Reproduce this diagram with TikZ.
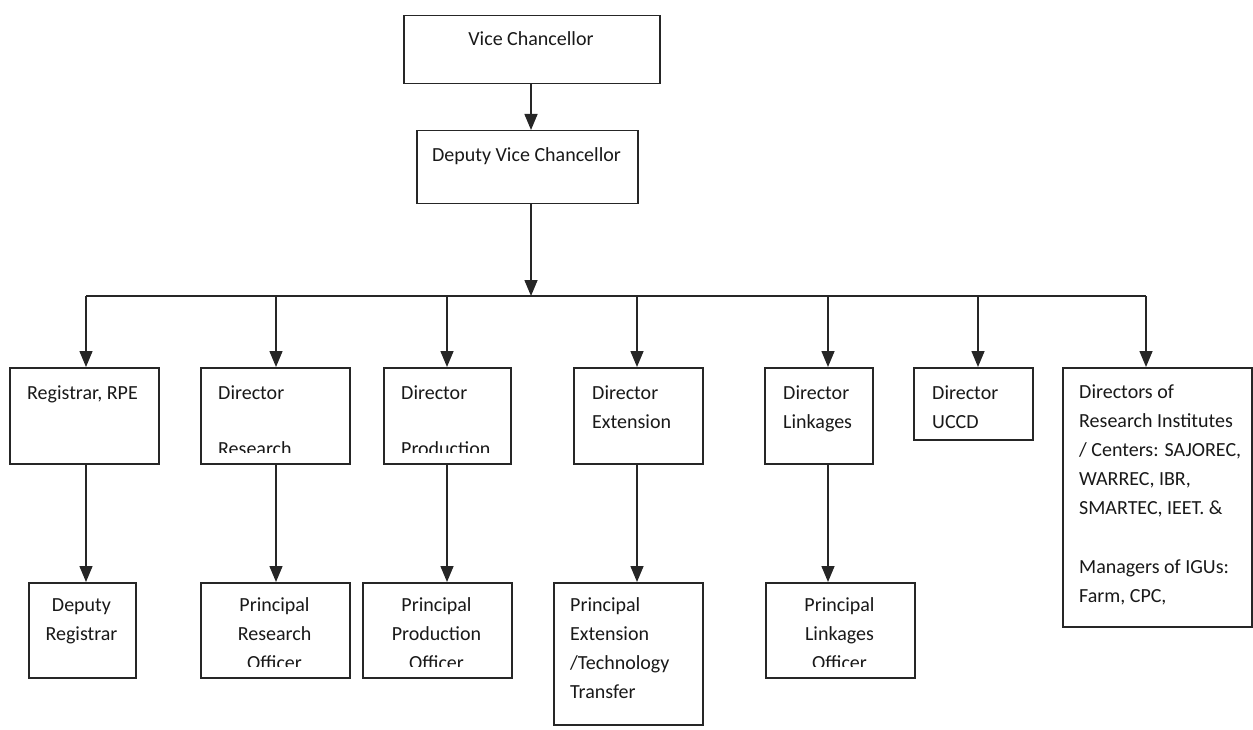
\documentclass[tikz,border=0pt]{standalone}
\usepackage{fontspec}
\setmainfont{Carlito}
\usetikzlibrary{arrows.meta}
\newcommand{\bx}[5]{\node[box, anchor=north west, minimum width={(#4-#2)*1pt}, minimum height={(#5-#3)*1pt}] (#1) at (#2,#3) {};}
\newcommand{\tl}[5]{\node[txt, anchor=#4] (#1) at (#2,#3) {#5};}
\begin{document}
\begin{tikzpicture}[x=1pt,y=-1pt,
  box/.style={draw=black!85, line width=1.5pt, inner sep=0pt, fill=white},
  ln/.style={draw=black!85, line width=1.5pt},
  arr/.style={ln, -{Triangle[length=16pt,width=13pt]}},
  txt/.style={inner sep=0pt, font=\fontsize{20}{24}\selectfont, text=black!90}]
\useasboundingbox (0,0) rectangle (1253,730);
% top boxes
\bx{vc}{403}{15}{659}{83}
\tl{vct}{531}{46}{base}{Vice Chancellor}
\bx{dvc}{416}{130}{637}{203}
\tl{dvct}{526.5}{162}{base}{Deputy Vice Chancellor}
% middle row
\bx{reg}{9}{367}{158}{463}
\bx{dres}{200}{367}{349}{463}
\bx{dprod}{383}{367}{510}{463}
\bx{dext}{573}{367}{702}{463}
\bx{dlink}{764}{367}{872}{463}
\bx{ducc}{913}{367}{1032}{439}
\bx{dri}{1062}{367}{1251}{626}
% bottom row
\bx{dreg}{28}{582}{135}{677}
\bx{pres}{200}{582}{349}{677}
\bx{pprod}{362}{582}{511}{677}
\bx{pext}{553}{582}{702}{724}
\bx{plink}{765}{582}{914}{677}
% middle texts
\tl{regt}{27}{399}{base west}{Registrar, RPE}
\tl{drest}{218}{399}{base west}{Director}
\begin{scope}\clip (200,367) rectangle (349,452);
\tl{drest2}{218}{455}{base west}{Research}
\end{scope}
\tl{dprodt}{401}{399}{base west}{Director}
\begin{scope}\clip (383,367) rectangle (510,452);
\tl{dprodt2}{401}{455}{base west}{Production}
\end{scope}
\tl{dextt}{592}{399}{base west}{Director}
\tl{dextt2}{592}{428}{base west}{Extension}
\tl{dlinkt}{783}{399}{base west}{Director}
\tl{dlinkt2}{783}{428}{base west}{Linkages}
\tl{ducct}{932}{399}{base west}{Director}
\tl{ducct2}{932}{428}{base west}{UCCD}
\tl{drit1}{1079}{398}{base west}{Directors of}
\tl{drit2}{1079}{427.2}{base west}{Research Institutes}
\tl{drit3}{1079}{456.4}{base west}{/ Centers: SAJOREC,}
\tl{drit4}{1079}{485.6}{base west}{WARREC, IBR,}
\tl{drit5}{1079}{514.8}{base west}{SMARTEC, IEET. \&}
\tl{drit6}{1079}{573.2}{base west}{Managers of IGUs:}
\tl{drit7}{1079}{602.4}{base west}{Farm, CPC,}
% bottom texts
\tl{dregt1}{81.5}{611}{base}{Deputy}
\tl{dregt2}{81.5}{640}{base}{Registrar}
\tl{prest1}{274.5}{611}{base}{Principal}
\tl{prest2}{274.5}{640}{base}{Research}
\begin{scope}\clip (200,582) rectangle (349,666);
\tl{prest3}{274.5}{669}{base}{Officer}
\end{scope}
\tl{pprodt1}{436.5}{611}{base}{Principal}
\tl{pprodt2}{436.5}{640}{base}{Production}
\begin{scope}\clip (362,582) rectangle (511,666);
\tl{pprodt3}{436.5}{669}{base}{Officer}
\end{scope}
\tl{pextt1}{570}{611}{base west}{Principal}
\tl{pextt2}{570}{640}{base west}{Extension}
\tl{pextt3}{570}{669.4}{base west}{/Technology}
\tl{pextt4}{570}{698.6}{base west}{Transfer}
\tl{plinkt1}{839.5}{611}{base}{Principal}
\tl{plinkt2}{839.5}{640}{base}{Linkages}
\begin{scope}\clip (765,582) rectangle (914,666);
\tl{plinkt3}{839.5}{669}{base}{Officer}
\end{scope}
% connectors
\coordinate (bus) at (531,296);
\coordinate (d1) at (86,296);
\coordinate (d2) at (276,296);
\coordinate (d3) at (447,296);
\coordinate (d4) at (637,296);
\coordinate (d5) at (828,296);
\coordinate (d6) at (978,296);
\coordinate (d7) at (1146,296);
\draw[arr] (vc.south -| bus) -- (dvc.north -| bus);
\draw[arr] (dvc.south -| bus) -- (bus);
\draw[ln] (d1) -- (d7);
\draw[arr] (d1) -- (d1 |- reg.north);
\draw[arr] (d2) -- (d2 |- dres.north);
\draw[arr] (d3) -- (d3 |- dprod.north);
\draw[arr] (d4) -- (d4 |- dext.north);
\draw[arr] (d5) -- (d5 |- dlink.north);
\draw[arr] (d6) -- (d6 |- ducc.north);
\draw[arr] (d7) -- (d7 |- dri.north);
\draw[arr] (d1 |- reg.south) -- (d1 |- dreg.north);
\draw[arr] (d2 |- dres.south) -- (d2 |- pres.north);
\draw[arr] (d3 |- dprod.south) -- (d3 |- pprod.north);
\draw[arr] (d4 |- dext.south) -- (d4 |- pext.north);
\draw[arr] (d5 |- dlink.south) -- (d5 |- plink.north);
\end{tikzpicture}
\end{document}
